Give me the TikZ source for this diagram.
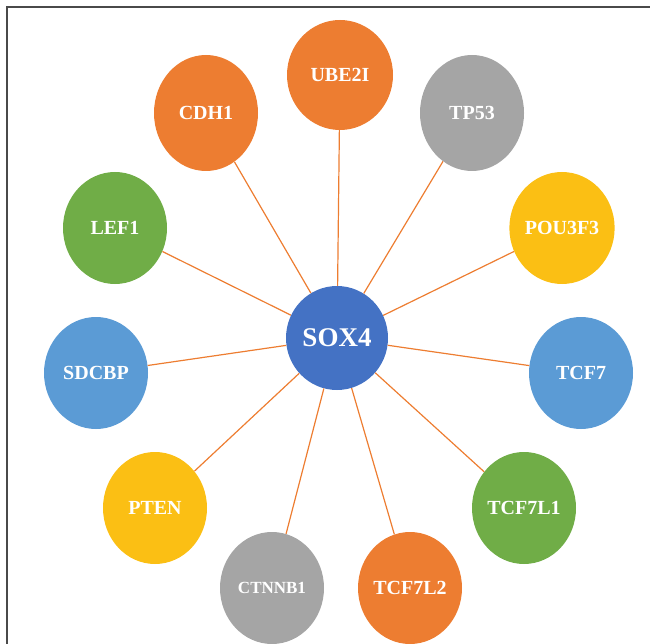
\documentclass[tikz,border=0pt]{standalone}
\usepackage{fontspec}
\setmainfont{Liberation Serif}
\usetikzlibrary{shapes.geometric}
\definecolor{corange}{HTML}{ED7D31}
\definecolor{cgrey}{HTML}{A5A5A5}
\definecolor{cyellow}{HTML}{FBBF14}
\definecolor{cblue}{HTML}{5B9BD5}
\definecolor{cgreen}{HTML}{70AD47}
\definecolor{cdark}{HTML}{4472C4}
\definecolor{cframe}{HTML}{4A4A4A}
\tikzset{
  gene/.style={ellipse, inner sep=0pt, minimum width=104pt, minimum height=112pt,
    text=white, font=\bfseries\fontsize{20}{20}\selectfont},
  hub/.style={gene, fill=cdark, minimum width=102pt, minimum height=104pt,
    font=\bfseries\fontsize{27}{27}\selectfont},
  link/.style={draw=corange, line width=1.2pt},
  frameline/.style={draw=cframe, line width=1.5pt}
}
\begin{document}
\begin{tikzpicture}[x=1pt,y=-1pt]
\useasboundingbox (0,0) rectangle (650,644);
\coordinate (f1) at (7,644);
\coordinate (f2) at (7,7);
\coordinate (f3) at (650,7);
\draw[frameline] (f1) -- (f2) -- (f3);

\node[hub] (sox4) at (337,338) {SOX4};
\node[gene, fill=corange, minimum width=106pt, minimum height=110pt] (ube2i) at (340,75) {UBE2I};
\node[gene, fill=corange, minimum height=116pt] (cdh1) at (206,113) {CDH1};
\node[gene, fill=cgrey, minimum height=116pt] (tp53) at (472,113) {TP53};
\node[gene, fill=cgreen] (lef1) at (115,228) {LEF1};
\node[gene, fill=cyellow] (pou3f3) at (562,228) {POU3F3};
\node[gene, fill=cblue] (sdcbp) at (96,373) {SDCBP};
\node[gene, fill=cblue] (tcf7) at (581,373) {TCF7};
\node[gene, fill=cyellow] (pten) at (155,508) {PTEN};
\node[gene, fill=cgreen] (tcf7l1) at (524,508) {TCF7L1};
\node[gene, fill=cgrey, font=\bfseries\fontsize{17}{17}\selectfont] (ctnnb1) at (272,588) {CTNNB1};
\node[gene, fill=corange] (tcf7l2) at (410,588) {TCF7L2};

\foreach \n in {ube2i,cdh1,tp53,lef1,pou3f3,sdcbp,tcf7,pten,tcf7l1,ctnnb1,tcf7l2}
  \draw[link] (sox4) -- (\n);
\end{tikzpicture}
\end{document}
